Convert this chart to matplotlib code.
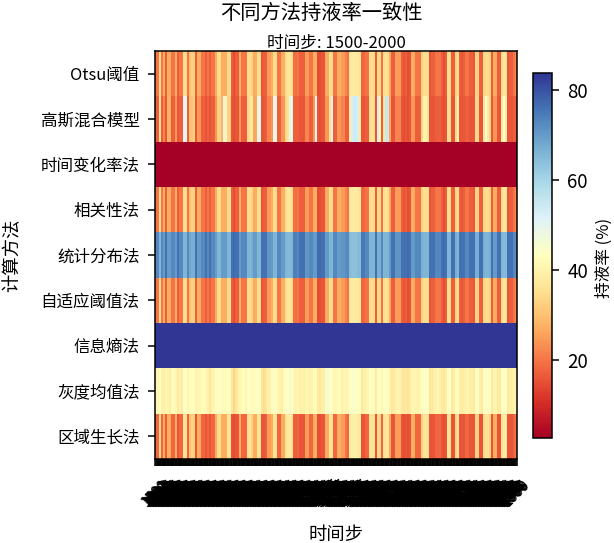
import numpy as np
import matplotlib
matplotlib.use("Agg")
import matplotlib.pyplot as plt
from matplotlib.colors import Normalize
from matplotlib.cm import ScalarMappable

plt.rcParams['font.family'] = ['Noto Sans CJK SC', 'DejaVu Sans']
plt.rcParams['axes.unicode_minus'] = False
plt.rcParams['axes.linewidth'] = 1.1

methods = ['Otsu阈值', '高斯混合模型', '时间变化率法', '相关性法', '统计分布法',
           '自适应阈值法', '信息熵法', '灰度均值法', '区域生长法']
time_steps = list(range(1500, 2000))

otsu_vals = [20,20,35,20,27,17,27,27,20,20,27,17,20,20,35,35,20,30,33,33,17,27,27,20,20,17,20,17,20,20,
             27,35,35,27,27,27,35,35,17,15,17,17,27,20,20,20,35,35,33,27,27,35,35,16,17,17,25,25,27,35,
             35,20,20,27,27,35,37,37,35,19,19,20,17,17,17,25,25,20,20,27,27,15,15,16,16,27,27,35,35,20,
             20,27,27,
             25,25,22,20,37,38,38,38,37,37,18,18,20,20,35,35,35,17,34,34,20,35,36,35,27,17,17,25,25,25,
             17,16,17,15,16,27,27,20,20,20,33,35,35,35,16,17,17,20,20,20,17,15,17,35,35,17,17,33,35,17,
             16,17,20,20,17,17,16,33,33,17,17,34,35,35,33,17,27,27,17,17,35,37,37,16,17,17,20,22]

gmm_vals = [17,17,36,17,22,16,28,28,17,17,24,16,17,17,50,50,17,30,30,33,16,24,24,17,17,16,17,16,17,17,
            24,33,33,28,50,40,33,33,16,15,16,16,24,17,17,17,34,36,38,26,26,50,48,16,16,17,22,22,24,49,
            49,17,17,24,24,34,36,49,49,17,17,17,16,16,16,22,22,17,17,24,50,16,15,16,16,24,24,35,50,17,
            17,24,24,
            22,22,17,17,38,53,54,54,53,38,16,16,17,17,35,36,35,16,53,40,17,36,55,55,26,16,16,22,22,22,
            16,15,16,15,16,24,24,17,17,17,34,40,40,36,16,16,16,17,17,17,16,15,16,35,35,16,16,34,40,16,
            16,16,17,17,16,16,16,34,34,16,16,36,46,38,34,16,24,24,16,16,38,44,38,16,16,16,17,17]

rate_vals = [2.7, 2.7, 2.7, 2.7]

stats_vals = [73,73,66,73,70,76,70,70,73,73,70,76,73,73,66,66,73,68,67,67,76,70,70,73,73,76,73,76,73,73,
              70,66,66,70,70,70,66,66,76,77,76,76,70,73,73,73,66,66,67,70,70,66,66,76,76,76,71,71,70,66,
              66,73,73,70,70,66,65,65,66,74,74,73,76,76,76,71,71,73,73,70,70,77,77,76,76,70,70,66,66,73,
              73,70,70,
              71,71,72,73,65,64,64,64,65,65,75,75,73,73,66,66,66,76,67,67,73,66,66,66,70,76,76,71,71,71,
              76,76,76,77,76,70,70,73,73,73,67,66,66,66,76,76,76,73,73,73,76,77,76,66,66,76,76,67,66,76,
              76,76,73,73,76,76,76,67,67,76,76,67,66,66,67,76,70,70,76,76,66,65,65,76,76,76,73,72]

entropy_vals = [83.8, 83.8, 83.8, 83.8]

gray_vals = [41,41,43,40,39,41,40,39,42,42,41,38,40,38,44,44,41,42,43,43,40,41,41,42,42,41,40,37,40,41,
             42,44,44,42,42,42,43,43,37,34,36,39,41,42,42,41,44,43,42,42,43,43,44,36,35,37,40,40,42,44,
             43,41,40,39,42,44,44,45,44,41,40,41,39,40,39,41,41,40,40,42,42,38,37,39,39,45,46,44,43,41,
             41,42,42,
             40,41,40,41,44,44,45,44,43,43,38,39,40,41,43,43,44,38,43,43,41,44,44,43,40,37,38,40,41,40,
             38,37,38,36,38,41,41,40,40,41,43,44,44,43,37,38,39,40,41,40,38,37,39,43,44,38,39,43,43,39,
             38,39,40,41,39,39,38,43,44,39,38,43,44,44,43,38,40,41,38,38,44,44,43,38,39,39,40,41]

region_vals = [18,18,34,18,27,17,27,27,18,18,27,16,18,18,36,36,18,30,33,33,16,27,27,18,18,16,18,16,18,18,
               27,35,35,27,27,27,36,36,16,15,16,16,27,18,18,18,35,36,33,27,27,36,36,16,16,17,25,25,27,36,
               36,18,18,27,27,36,38,38,36,17,17,18,16,16,16,25,25,18,18,27,27,15,15,16,16,27,27,36,36,18,
               18,27,27,
               25,25,20,18,38,39,39,39,38,38,16,16,18,18,36,36,36,16,34,34,18,36,37,36,27,16,16,25,25,25,
               16,15,16,15,16,27,27,18,18,18,33,36,36,36,16,16,16,18,18,18,16,15,16,36,36,16,16,33,36,16,
               16,16,18,18,16,16,16,33,33,16,16,34,36,36,33,16,27,27,16,16,36,38,38,16,16,16,18,20]

rows = [otsu_vals, gmm_vals, rate_vals, otsu_vals, stats_vals,
        otsu_vals, entropy_vals, gray_vals, region_vals]

W, H = 614, 543
fig = plt.figure(figsize=(W / 100, H / 100), dpi=100)
ax = fig.add_axes([155 / W, 1 - 459 / H, (517 - 155) / W, (459 - 51) / H])
norm = Normalize(vmin=2.7, vmax=83.8)
cmap = 'RdYlBu'

for i, vals in enumerate(rows):
    edges = np.linspace(0, len(time_steps), len(vals) + 1)
    ax.pcolormesh(edges, [i, i + 1], np.array([vals], dtype=float), cmap=cmap, norm=norm,
                  shading='flat', antialiased=False)

ax.set_xlim(0, len(time_steps))
ax.set_ylim(len(methods), 0)
ax.set_yticks(np.arange(len(methods)) + 0.5)
ax.set_yticklabels(methods, fontsize=11.9)
ax.set_xticks(np.arange(len(time_steps)) + 0.5)
ax.set_xticklabels([str(t) for t in time_steps], rotation=45, ha='center', fontsize=10)
ax.tick_params(axis='x', length=5, width=1.1, pad=8)
ax.tick_params(axis='y', length=5, width=1.1, pad=6)

cax = fig.add_axes([533 / W, 1 - 438 / H, 19 / W, (438 - 73) / H])
cb = fig.colorbar(ScalarMappable(norm=norm, cmap=cmap), cax=cax)
cb.set_ticks([20, 40, 60, 80])
cb.outline.set_linewidth(1.1)
cb.ax.tick_params(labelsize=13.5, length=5, width=1.1, pad=6)
fig.text(604 / W, 1 - 258 / H, '持液率 (%)', rotation=90, ha='center', va='center', fontsize=12)

fig.text(321 / W, 1 - 13 / H, '不同方法持液率一致性', ha='center', va='center', fontsize=14.6)
fig.text(336 / W, 1 - 43 / H, '时间步: 1500-2000', ha='center', va='center', fontsize=12)
fig.text(336 / W, 1 - 535 / H, '时间步', ha='center', va='center', fontsize=13.2)
fig.text(12 / W, 1 - 255 / H, '计算方法', rotation=90, ha='center', va='center', fontsize=13.2)

fig.savefig('out.png', dpi=100)
